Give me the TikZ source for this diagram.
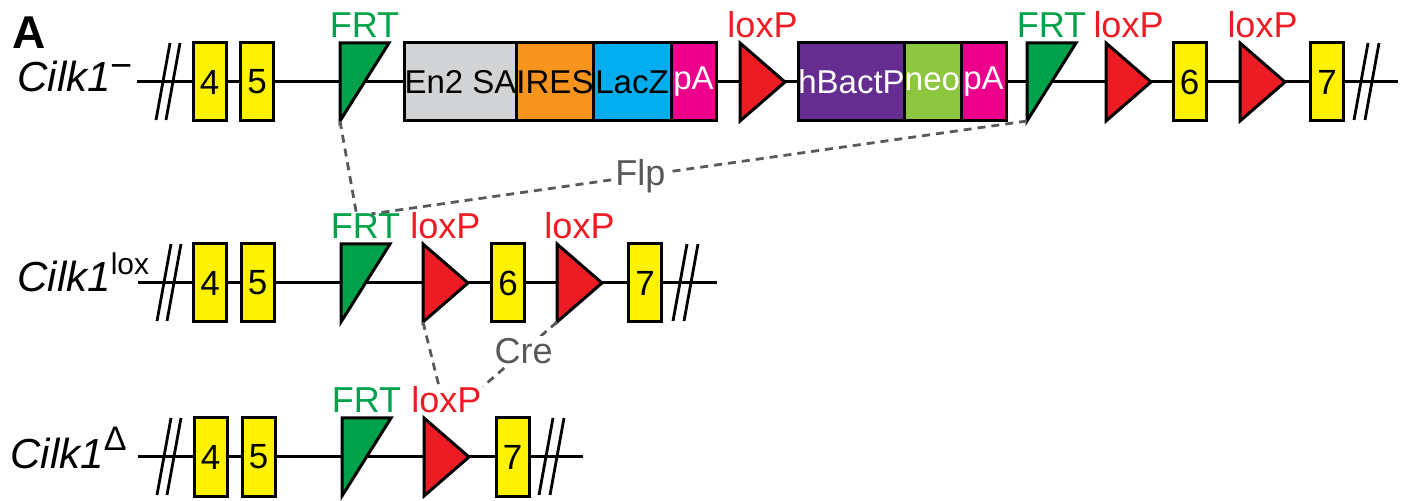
\documentclass[tikz,border=0pt]{standalone}
\usepackage{fontspec}
\setmainfont{Liberation Sans}
\definecolor{exonyel}{HTML}{FFF200}
\definecolor{frtgreen}{HTML}{00A14B}
\definecolor{loxred}{HTML}{ED1C24}
\definecolor{en2gray}{HTML}{D1D3D4}
\definecolor{iresorange}{HTML}{F7941D}
\definecolor{laczblue}{HTML}{00AEEF}
\definecolor{pamagenta}{HTML}{EC008C}
\definecolor{bactpurple}{HTML}{662D91}
\definecolor{neogreen}{HTML}{8DC63F}
\definecolor{recgray}{HTML}{58595B}
\tikzset{
  dna/.style={line width=1.5pt},
  brk/.style={line width=1.4pt},
  exon/.style={draw, line width=1.5pt, fill=exonyel, minimum width=16.5pt, minimum height=39pt, inner sep=0pt, font=\fontsize{17.5}{17.5}\selectfont},
  cas/.style={draw, line width=1.5pt, minimum height=39pt, inner sep=0pt, font=\fontsize{16.5}{16.5}\selectfont},
  frt/.style={draw, line width=1.5pt, fill=frtgreen},
  lox/.style={draw, line width=1.5pt, fill=loxred},
  frtlbl/.style={text=frtgreen, font=\fontsize{18}{18}\selectfont, inner sep=0pt, anchor=base},
  loxlbl/.style={text=loxred, font=\fontsize{18}{18}\selectfont, inner sep=0pt, anchor=base},
  rec/.style={draw=recgray, line width=1.4pt, dash pattern=on 4pt off 3pt},
  enz/.style={text=recgray, fill=white, font=\fontsize{18}{18}\selectfont, inner sep=1pt},
  allele/.style={font=\fontsize{21}{21}\selectfont\itshape, inner sep=0pt, anchor=base west},
}
\begin{document}
\begin{tikzpicture}[x=0.5pt, y=-0.5pt]
  \useasboundingbox (0,0) rectangle (1401,501); % keep the margins.
  \node[font=\fontsize{23}{23}\selectfont\bfseries, inner sep=0pt, anchor=base west] (panel) at (12,49) {A};
  \node[allele] (minus) at (17,92) {Cilk1\raisebox{6.5pt}{\fontsize{19}{19}\selectfont\upshape −}};
  \node[allele] (flox) at (17,292) {Cilk1\raisebox{8.5pt}{\fontsize{15}{15}\selectfont\upshape lox}};
  \node[allele] (del) at (10,468) {Cilk1\raisebox{9pt}{\fontsize{17}{17}\selectfont\upshape Δ}};
  \foreach \y/\a/\b in {82/137/1398, 283/138/717, 457/138/583} { \draw[dna] (\a,\y) -- (\b,\y); }
  \foreach \x/\y in {156/82, 166/82, 1354/82, 1365/82, 157/283, 167/283, 673/283, 684/283, 157/457, 167/457, 539/457, 550/457} { \draw[brk] (\x,\y+38) -- ++(14,-77); }
  \foreach \nm/\x/\y/\n in {ae4/209.5/82/4, ae5/257/82/5, ae6/1189.5/82/6, ae7/1327/82/7, be4/210/283/4, be5/257.5/283/5, be6/508/283/6, be7/645/283/7, ce4/210.5/457/4, ce5/258.5/457/5, ce7/512.5/457/7} { \node[exon] (\nm) at (\x,\y) {\n}; }
  % cassette.
  \node[cas, fill=en2gray, minimum width=56.5pt] (en2) at (460.5,82) {En2 SA};
  \node[cas, fill=iresorange, minimum width=38pt] (ires) at (555,82) {IRES};
  \node[cas, fill=laczblue, minimum width=39pt] (lacz) at (632,82) {LacZ};
  \node[cas, fill=pamagenta, minimum width=22.5pt, text=white] (pa1) at (693.5,82) {pA};
  \node[cas, fill=bactpurple, minimum width=52.5pt, text=white] (bact) at (851.5,82) {hBactP};
  \node[cas, fill=neogreen, minimum width=28.5pt, text=white] (neo) at (932.5,82) {neo};
  \node[cas, fill=pamagenta, minimum width=22.5pt, text=white] (pa2) at (983.5,82) {pA};
  \foreach \nm/\x/\y in {af1/340/82, af2/1027/82, bf1/341/283, cf1/342/457} {
    \draw[frt] (\x,\y-39) -- ++(49,0) -- (\x,\y+39) -- cycle;
    \coordinate (\nm) at (\x,\y+39);
    \node[frtlbl] (\nm-t) at (\x+24.5,\y-44) {FRT};
  }
  \foreach \nm/\x/\y in {al1/740/82, al2/1106/82, al3/1240/82, bl1/423/283, bl2/557/283, cl1/424/457} {
    \draw[lox] (\x,\y-39) -- (\x+45,\y) -- (\x,\y+39) -- cycle;
    \coordinate (\nm) at (\x,\y+39);
    \node[loxlbl] (\nm-t) at (\x+22.5,\y-44) {loxP};
  }
  \draw[rec] (af1) -- ([xshift=-4.5pt]bf1-t.north);
  \draw[rec] (af2) -- node[enz, pos=0.59] (flp) {Flp} ([xshift=3pt]bf1-t.north);
  \draw[rec] (bl1) -- ([xshift=-3.75pt]cl1-t.north);
  \draw[rec] (bl2) -- node[enz, pos=0.45] (cre) {Cre} ([xshift=18.25pt]cl1-t.north);
\end{tikzpicture}
\end{document}
